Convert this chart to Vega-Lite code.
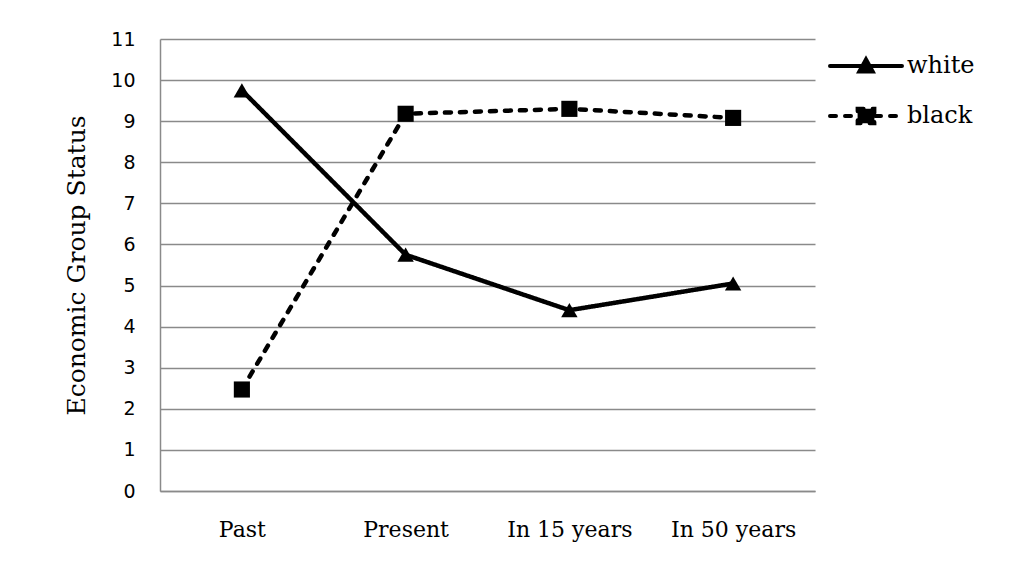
{
  "$schema": "https://vega.github.io/schema/vega-lite/v6.json",
  "width": 655,
  "height": 452,
  "autosize": {"type": "none"},
  "padding": {"left": 160, "top": 39, "right": 205, "bottom": 90},
  "background": "white",
  "config": {
    "view": {"stroke": null},
    "axis": {"gridColor": "#8a8a8a", "gridWidth": 1.5, "domainColor": "#8a8a8a", "domainWidth": 1.5, "ticks": false}
  },
  "data": {
    "values": [
      {"period": "Past", "series": "white", "status": 9.75},
      {"period": "Present", "series": "white", "status": 5.75},
      {"period": "In 15 years", "series": "white", "status": 4.4},
      {"period": "In 50 years", "series": "white", "status": 5.05},
      {"period": "Past", "series": "black", "status": 2.47},
      {"period": "Present", "series": "black", "status": 9.18},
      {"period": "In 15 years", "series": "black", "status": 9.3},
      {"period": "In 50 years", "series": "black", "status": 9.08}
    ]
  },
  "encoding": {
    "x": {
      "field": "period",
      "type": "nominal",
      "sort": ["Past", "Present", "In 15 years", "In 50 years"],
      "scale": {"paddingInner": 0, "paddingOuter": 0},
      "axis": {"title": null, "labelAngle": 0, "labelFont": "DejaVu Serif", "labelFontSize": 22, "labelColor": "black", "labelPadding": 28, "grid": false, "domain": true}
    },
    "y": {
      "field": "status",
      "type": "quantitative",
      "scale": {"domain": [0, 11], "nice": false, "zero": true},
      "axis": {
        "title": "Economic Group Status",
        "titleFont": "DejaVu Serif",
        "titleFontSize": 25,
        "titleFontWeight": "normal",
        "titleColor": "black",
        "titlePadding": 21,
        "values": [0, 1, 2, 3, 4, 5, 6, 7, 8, 9, 10, 11],
        "labelFont": "DejaVu Sans",
        "labelFontSize": 19,
        "labelColor": "black",
        "labelPadding": 25,
        "grid": true
      }
    }
  },
  "layer": [
    {
      "mark": {"type": "line", "color": "black", "strokeWidth": 4.5, "strokeCap": "round"},
      "encoding": {
        "strokeDash": {
          "field": "series",
          "type": "nominal",
          "scale": {"domain": ["white", "black"], "range": [[1, 0], [6, 9]]},
          "legend": {
            "title": null,
            "orient": "none",
            "legendX": 692,
            "legendY": 13,
            "padding": 0,
            "symbolSize": 576,
            "symbolStrokeWidth": 4,
            "symbolStrokeColor": "black",
            "labelFont": "DejaVu Serif",
            "labelFontSize": 24,
            "labelColor": "black",
            "labelOffset": 27,
            "rowPadding": 20,
            "encode": {
              "symbols": {
                "update": {
                  "shape": {"signal": "datum.value === 'white' ? 'M-3,0L3,0M-0.55,0.45L0,-0.55L0.55,0.45Z' : 'M-3,0L3,0M-0.7,-0.6L0.7,-0.6L0.7,0.6L-0.7,0.6Z'"},
                  "fill": {"value": "black"},
                  "stroke": {"value": "black"},
                  "strokeWidth": {"value": 4},
                  "strokeCap": {"value": "round"}
                }
              }
            }
          }
        }
      }
    },
    {
      "transform": [{"filter": "datum.series === 'white'"}],
      "mark": {"type": "point", "filled": true, "color": "black", "opacity": 1, "size": 270, "shape": "triangle-up"}
    },
    {
      "transform": [{"filter": "datum.series === 'black'"}],
      "mark": {"type": "point", "filled": true, "color": "black", "opacity": 1, "size": 260, "shape": "square"}
    }
  ]
}
